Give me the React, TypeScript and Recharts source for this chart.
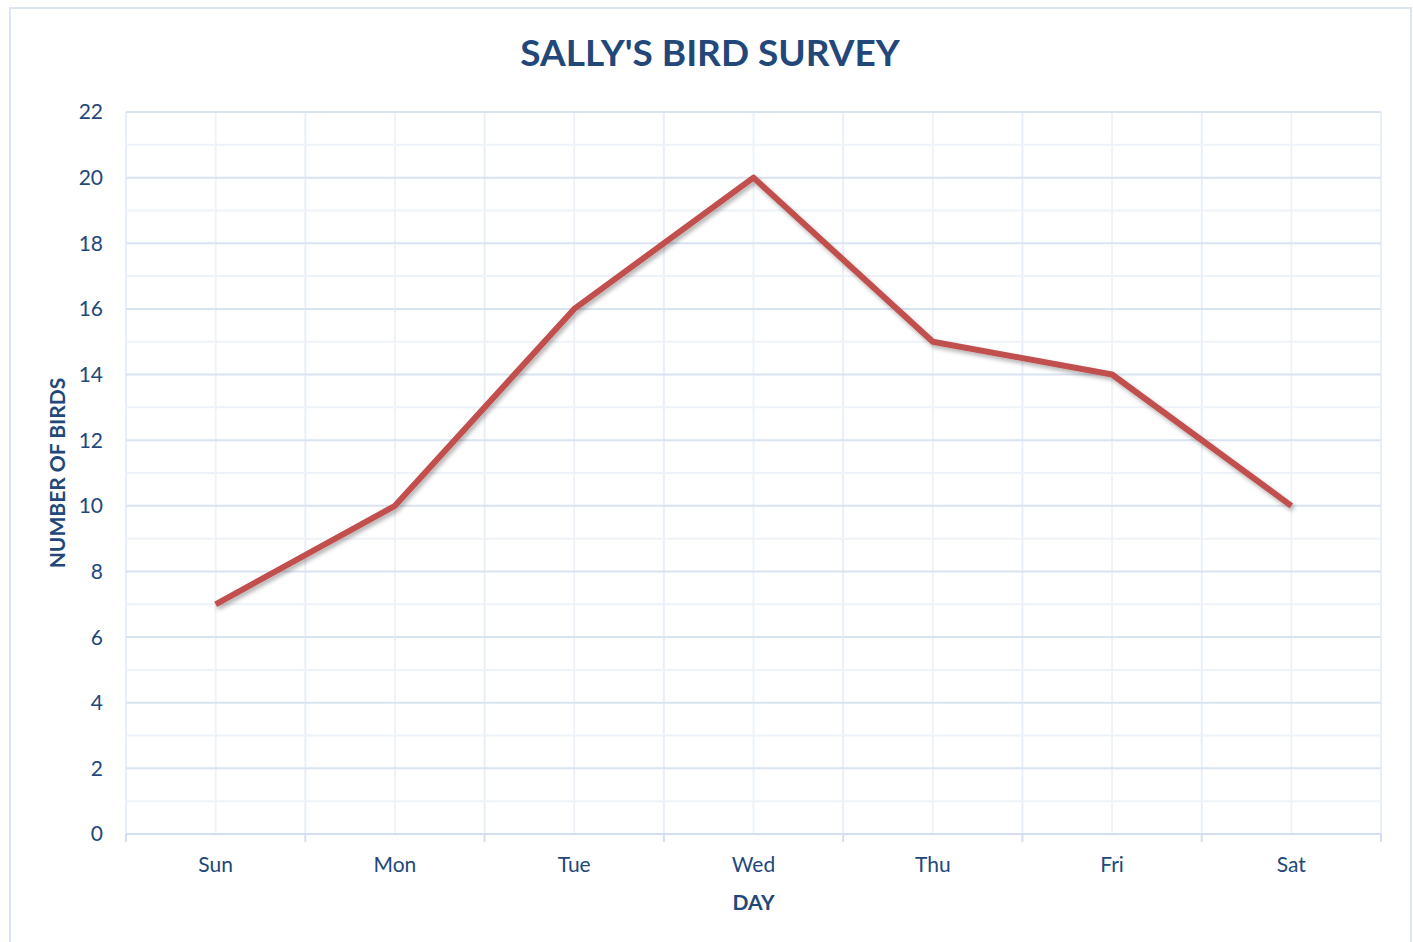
import { LineChart, Line, XAxis, YAxis, ReferenceLine, Label } from 'recharts';

const days = ['Sun', 'Mon', 'Tue', 'Wed', 'Thu', 'Fri', 'Sat'];
const birds = [7, 10, 16, 20, 15, 14, 10];
const yTicks = [0, 2, 4, 6, 8, 10, 12, 14, 16, 18, 20, 22];
const yMinor = [1, 3, 5, 7, 9, 11, 13, 15, 17, 19, 21];
const xCenters = [0, 1, 2, 3, 4, 5, 6];
const xBounds = [-0.5, 0.5, 1.5, 2.5, 3.5, 4.5, 5.5, 6.5];

const data = days.map((day, i) => ({ x: i, day, birds: birds[i] }));

const TEXT = '#22487A';
const FONT = 'Lato, "Open Sans", sans-serif';

const XTick = (props: any) => {
    const { x, y, payload } = props;
    const v = payload.value;
    if (Number.isInteger(v)) {
        return (
            <text x={x} y={y} dy="0.71em" textAnchor="middle" fill={TEXT} fontSize={21} fontFamily={FONT}>
                {days[v]}
            </text>
        );
    }
    // boundary tick mark below the axis
    return <line x1={x} x2={x} y1={y - 23} y2={y - 15} stroke="#D3DFF0" strokeWidth={2} />;
};

export default function App() {
    return (
        <div style={{ position: 'absolute', left: 0, top: 0, width: 1413, height: 942, background: '#fff', fontFamily: FONT }}>
            <div style={{ position: 'absolute', left: 9, top: 7, width: 1403, height: 940, border: '2px solid #DCE5F3', boxSizing: 'border-box' }} />
            <div style={{ position: 'absolute', left: 0, width: 1420, top: 29, textAlign: 'center', color: TEXT, fontSize: 37, fontWeight: 700 }}>
                SALLY'S BIRD SURVEY
            </div>
            <div style={{ position: 'absolute', left: 0, top: 0 }}>
                <LineChart width={1413} height={942} data={data} margin={{ top: 112, right: 32, bottom: 0, left: -10 }}>
                    <defs>
                        <filter id="shadow" x="-5%" y="-5%" width="110%" height="115%">
                            <feDropShadow dx="2" dy="3" stdDeviation="2" floodColor="#000" floodOpacity="0.3" />
                        </filter>
                    </defs>
                    <XAxis
                        dataKey="x"
                        type="number"
                        domain={[-0.5, 6.5]}
                        ticks={[...xBounds, ...xCenters].sort((a, b) => a - b)}
                        interval={0}
                        height={108}
                        tickLine={false}
                        tickSize={8}
                        tickMargin={15}
                        axisLine={{ stroke: '#D3DFF0', strokeWidth: 2 }}
                        tick={<XTick />}
                    >
                        <Label value="DAY" position="insideBottom" offset={32} fill={TEXT} fontSize={21} fontWeight={700} fontFamily={FONT} />
                    </XAxis>
                    <YAxis
                        domain={[0, 22]}
                        ticks={yTicks}
                        interval={0}
                        width={136}
                        axisLine={false}
                        tickLine={false}
                        tickSize={0}
                        tickMargin={23}
                        tick={{ fill: TEXT, fontSize: 21, fontFamily: FONT }}
                    >
                        <Label value="NUMBER OF BIRDS" position="center" angle={-90} fill={TEXT} fontSize={21} fontWeight={700} fontFamily={FONT} />
                    </YAxis>
                    {xBounds.map((v) => (
                        <ReferenceLine key={'b' + v} x={v} stroke="#E9EFF8" strokeWidth={2} />
                    ))}
                    {xCenters.map((v) => (
                        <ReferenceLine key={'c' + v} x={v} stroke="#EEF3FA" strokeWidth={2} />
                    ))}
                    {yMinor.map((v) => (
                        <ReferenceLine key={'m' + v} y={v} stroke="#EEF3FA" strokeWidth={2} />
                    ))}
                    {yTicks.map((v) => (
                        <ReferenceLine key={'j' + v} y={v} stroke="#D9E3F2" strokeWidth={2} />
                    ))}
                    <Line
                        dataKey="birds"
                        type="linear"
                        stroke="#C0504D"
                        strokeWidth={6}
                        strokeLinejoin="round"
                        dot={false}
                        activeDot={false}
                        filter="url(#shadow)"
                        isAnimationActive={false}
                    />
                </LineChart>
            </div>
        </div>
    );
}
